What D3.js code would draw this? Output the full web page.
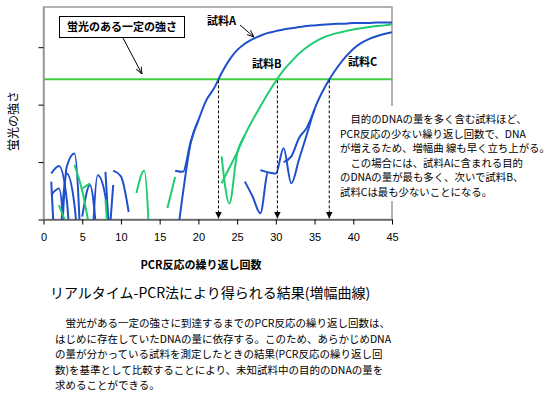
<!DOCTYPE html>
<html>
<head>
<meta charset="utf-8">
<script src="https://cdn.jsdelivr.net/npm/d3@7"></script>
<style>
  body { margin: 0; background: #fff; }
  svg { display: block; }
  .jp { font-family: "Noto Sans CJK JP", sans-serif; }
</style>
</head>
<body>
<div id="chart"></div>
<script>
const _ = null;
// PCR cycles (x categories)
const cycles = [1,2,3,4,5,6,7,8,9,10,11,12,13,14,15,16,17,18,19,20,21,22,23,24,25,26,27,28,29,30,31,32,33,34,35,36,37,38,39,40,41,42,43,44,45];
const xTicks = [0,5,10,15,20,25,30,35,40,45];
const yTicks = [0,1,2,3];

// amplification curves (fluorescence, per cycle)
const sampleA1 = [_,_,_,_,_,_,_,_,_,_,_,_,_,_,_,_,0.85,0.83,1.35,1.73,2.07,2.28,2.55,2.78,2.95,3.06,3.14,3.2,3.25,3.28,3.31,3.33,3.35,3.37,3.38,3.39,3.4,3.41,3.41,3.42,3.42,3.42,3.43,3.43,3.43];
const sampleA2 = [_,_,_,_,_,_,_,_,_,_,_,_,_,_,_,_,-0.6,0.45,1.33,1.73,_,_,_,_,_,_,_,_,_,_,_,_,_,_,_,_,_,_,_,_,_,_,_,_,_];
const sampleB1 = [_,_,_,_,_,_,_,_,_,_,_,_,_,_,_,_,_,_,_,_,_,_,1.1,0.28,1.15,1.47,1.73,1.97,2.2,2.41,2.6,2.75,2.89,3.0,3.09,3.16,3.21,3.25,3.28,3.31,3.33,3.35,3.37,3.38,3.4];
const sampleB2 = [_,_,_,_,_,_,_,_,_,_,_,_,_,_,_,_,_,_,_,_,_,_,0.63,0.9,1.17,1.47,_,_,_,_,_,_,_,_,_,_,_,_,_,_,_,_,_,_,_];
const sampleC1 = [_,_,_,_,_,_,_,_,_,_,_,_,_,_,_,_,_,_,_,_,_,_,_,_,_,0.66,0.4,0.11,0.82,0.8,1.24,0.63,1.05,1.48,1.92,2.22,2.46,2.66,2.83,2.97,3.07,3.14,3.19,3.23,3.26];
const sampleC2 = [_,_,_,_,_,_,_,_,_,_,_,_,_,_,_,_,_,_,_,_,_,_,_,_,_,_,_,0.86,0.82,_,1.0,1.1,1.42,1.6,1.92,_,_,_,_,_,_,_,_,_,_];

// background noise before amplification
const noiseBlue1 = [0.8,0.93,0.35,-2];
const noiseBlue2 = [0.66,-2];
const noiseBlue3 = [0.43,0.54,-1];
const noiseBlue4 = [_,-1.5,0.92,1.15,-1.2];
const noiseBlue5 = [_,_,_,_,0.05,0.6,-0.5];
const noiseBlue6 = [_,_,_,_,_,-1.5,0.77,0.4,-0.8];
const noiseBlue7 = [_,_,_,_,_,_,_,0.83,-1.5];
const noiseBlue8 = [_,_,_,_,_,_,_,_,0.85,0.75,0.13];
const noiseBlue9 = [_,-0.8,0.8,0.25,-1.5];
const noiseBlue10 = [_,_,_,_,_,_,_,-1.2,0.6];
const noiseGreen1 = [_,0.25,-0.1];
const noiseGreen2 = [_,_,_,0.95,0.5,-0.2];
const noiseGreen3 = [_,_,_,_,0.54,0.63];
const noiseGreen4 = [_,_,_,_,_,_,_,0.35,-1.5];
const noiseGreen5 = [_,_,_,_,_,_,_,_,_,_,_,0.46,0.85,-1.5];
const noiseGreen6 = [_,_,_,_,_,_,_,_,_,_,_,_,_,_,_,0.2,0.74];

const threshold = 2.44;
const ctCycles = [22.6, 30.2, 36.9];
const sampleLabels = ["試料A", "試料B", "試料C"];

const BLUE = "#1f50cc", GREEN = "#22cc70", THR = "#3fcf3f";

const W = 552, H = 393;
const svg = d3.select("#chart").append("svg").attr("width", W).attr("height", H);

const x = d3.scaleLinear().domain([0, 45]).range([43.5, 392]);
const y = d3.scaleLinear().domain([0, 3.7]).range([219.5, 7]);

const defs = svg.append("defs");
defs.append("clipPath").attr("id", "plot")
  .append("rect").attr("x", x(0)).attr("y", y(3.7)).attr("width", x(45) - x(0)).attr("height", y(0) - y(3.7));
defs.append("marker").attr("id", "head").attr("viewBox", "0 0 10 10")
  .attr("refX", 10).attr("refY", 5).attr("markerWidth", 7).attr("markerHeight", 7)
  .attr("markerUnits", "userSpaceOnUse").attr("orient", "auto")
  .append("path").attr("d", "M0,0L10,5L0,10z").attr("fill", "#000");
defs.append("marker").attr("id", "thin").attr("viewBox", "0 0 10 10")
  .attr("refX", 10).attr("refY", 5).attr("markerWidth", 7).attr("markerHeight", 7)
  .attr("markerUnits", "userSpaceOnUse").attr("orient", "auto")
  .append("path").attr("d", "M0,1L10,5L0,9").attr("fill", "none").attr("stroke", "#000").attr("stroke-width", 1.3);

// frame
svg.append("rect")
  .attr("x", x(0)).attr("y", y(3.7)).attr("width", x(45) - x(0)).attr("height", y(0) - y(3.7))
  .attr("fill", "none").attr("stroke", "#999").attr("stroke-width", 1.5);

const line = d3.line()
  .defined(d => d[1] !== null)
  .x(d => x(d[0]))
  .y(d => y(d[1]))
  .curve(d3.curveMonotoneX);

const traces = [
  [noiseBlue1, BLUE], [noiseBlue2, BLUE], [noiseBlue3, BLUE], [noiseBlue4, BLUE],
  [noiseBlue5, BLUE], [noiseBlue6, BLUE], [noiseBlue7, BLUE], [noiseBlue8, BLUE],
  [noiseBlue9, BLUE], [noiseBlue10, BLUE],
  [noiseGreen1, GREEN], [noiseGreen2, GREEN], [noiseGreen3, GREEN], [noiseGreen4, GREEN],
  [noiseGreen5, GREEN], [noiseGreen6, GREEN],
  [sampleB2, GREEN], [sampleB1, GREEN],
  [sampleC2, BLUE], [sampleC1, BLUE],
  [sampleA2, BLUE], [sampleA1, BLUE]
];

const plot = svg.append("g").attr("clip-path", "url(#plot)");

plot.append("line")
  .attr("x1", x(0)).attr("x2", x(45))
  .attr("y1", y(threshold)).attr("y2", y(threshold))
  .attr("stroke", THR).attr("stroke-width", 2);

plot.selectAll("path.trace")
  .data(traces)
  .enter().append("path")
  .attr("class", "trace")
  .attr("fill", "none")
  .attr("stroke", d => d[1])
  .attr("stroke-width", 2)
  .attr("d", d => line(d[0].map((v, i) => [cycles[i], v])));

// Ct arrows
svg.selectAll("line.ct")
  .data(ctCycles)
  .enter().append("line")
  .attr("class", "ct")
  .attr("x1", d => x(d)).attr("x2", d => x(d))
  .attr("y1", y(threshold) + 1).attr("y2", y(0) - 1)
  .attr("stroke", "#000").attr("stroke-width", 1)
  .attr("stroke-dasharray", "3,2")
  .attr("marker-end", "url(#head)");

// axes
const xAxis = svg.append("g")
  .attr("transform", `translate(0,${y(0)})`)
  .call(d3.axisBottom(x).tickValues(xTicks).tickSize(5).tickSizeOuter(0).tickPadding(9));
xAxis.select(".domain").attr("stroke", "#333");
xAxis.selectAll("text").attr("font-family", "Liberation Sans, Arial, sans-serif").attr("font-size", 11).attr("fill", "#000");

const yAxis = svg.append("g")
  .attr("transform", `translate(${x(0)},0)`)
  .call(d3.axisLeft(y).tickValues(yTicks).tickSize(5).tickSizeOuter(0).tickFormat(""));
yAxis.select(".domain").attr("stroke", "#999").attr("stroke-width", 1.5);

// labels
svg.append("text").attr("class", "jp")
  .attr("transform", "translate(18,121) rotate(-90)")
  .attr("text-anchor", "middle").attr("font-size", 12)
  .text("蛍光の強さ");

svg.append("text").attr("class", "jp")
  .attr("x", 201).attr("y", 269).attr("text-anchor", "middle")
  .attr("font-size", 11).attr("font-weight", "bold")
  .text("PCR反応の繰り返し回数");

svg.append("text").attr("class", "jp")
  .attr("x", 50).attr("y", 298)
  .attr("font-size", 14)
  .text("リアルタイム-PCR法により得られる結果(増幅曲線)");

// callout: threshold
svg.append("rect").attr("x", 59.5).attr("y", 16.5).attr("width", 125).attr("height", 21)
  .attr("fill", "#fff").attr("stroke", "#000").attr("stroke-width", 1);
svg.append("text").attr("class", "jp")
  .attr("x", 122).attr("y", 31).attr("text-anchor", "middle")
  .attr("font-size", 11).attr("font-weight", "bold")
  .text("蛍光のある一定の強さ");
svg.append("line").attr("x1", 123).attr("y1", 38).attr("x2", 142).attr("y2", 74)
  .attr("stroke", "#000").attr("stroke-width", 1).attr("marker-end", "url(#thin)");

// sample labels
const labelPos = [[207, 25], [252, 68], [348, 66]];
svg.selectAll("text.sample")
  .data(sampleLabels)
  .enter().append("text")
  .attr("class", "sample jp")
  .attr("x", (d, i) => labelPos[i][0]).attr("y", (d, i) => labelPos[i][1])
  .attr("font-size", 11).attr("font-weight", "bold")
  .text(d => d);
svg.append("line").attr("x1", 240).attr("y1", 25).attr("x2", 254).attr("y2", 37)
  .attr("stroke", "#000").attr("stroke-width", 1).attr("marker-end", "url(#thin)");

// explanation box on the right
svg.append("rect").attr("x", 336).attr("y", 106).attr("width", 216).attr("height", 95).attr("fill", "#fff");
const noteLines = [
  "　目的のDNAの量を多く含む試料ほど、",
  "PCR反応の少ない繰り返し回数で、DNA",
  "が増えるため、増幅曲 線も早く立ち上がる。",
  "　この場合には、試料Aに含まれる目的",
  "のDNAの量が最も多く、次いで試料B、",
  "試料Cは最も少ないことになる。"
];
svg.append("g").selectAll("text")
  .data(noteLines)
  .enter().append("text")
  .attr("class", "jp")
  .attr("x", 340).attr("y", (d, i) => 123 + i * 14.6)
  .attr("font-size", 10.4)
  .text(d => d);

const bodyLines = [
  "　蛍光がある一定の強さに到達するまでのPCR反応の繰り返し回数は、",
  "はじめに存在していたDNAの量に依存する。このため、あらかじめDNA",
  "の量が分かっている試料を測定したときの結果(PCR反応の繰り返し回",
  "数)を基準として比較することにより、未知試料中の目的のDNAの量を",
  "求めることができる。"
];
svg.append("g").selectAll("text")
  .data(bodyLines)
  .enter().append("text")
  .attr("class", "jp")
  .attr("x", 55).attr("y", (d, i) => 327 + i * 15.6)
  .attr("font-size", 10.5)
  .text(d => d);
</script>
</body>
</html>
